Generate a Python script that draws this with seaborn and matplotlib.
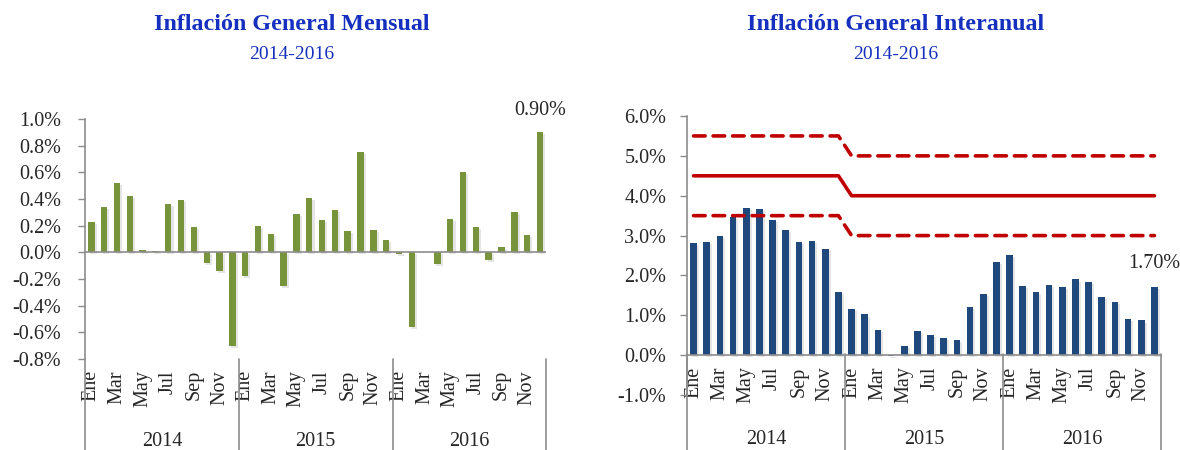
import numpy as np
import matplotlib
matplotlib.use("Agg")
import matplotlib.pyplot as plt
import matplotlib.patheffects as pe
from matplotlib.transforms import blended_transform_factory
import pandas as pd
import seaborn as sns

# data
years = ["2014", "2015", "2016"]
month_labels = ["Ene", "Mar", "May", "Jul", "Sep", "Nov"]

mensual = [0.23, 0.34, 0.52, 0.42, 0.02, 0.01, 0.36, 0.39, 0.19, -0.08, -0.14, -0.70,
           -0.18, 0.20, 0.14, -0.25, 0.29, 0.41, 0.24, 0.32, 0.16, 0.75, 0.17, 0.09,
           -0.01, -0.56, 0.00, -0.09, 0.25, 0.60, 0.19, -0.06, 0.04, 0.30, 0.13, 0.90]

interanual = [2.82, 2.83, 2.98, 3.46, 3.69, 3.67, 3.40, 3.13, 2.83, 2.87, 2.67, 1.58,
              1.15, 1.02, 0.64, -0.03, 0.23, 0.61, 0.50, 0.43, 0.39, 1.22, 1.54, 2.34,
              2.52, 1.74, 1.59, 1.76, 1.71, 1.90, 1.84, 1.46, 1.34, 0.91, 0.87, 1.70]

meta = [4.5] * 12 + [4.0] * 24
meta_sup = [5.5] * 12 + [5.0] * 24
meta_inf = [3.5] * 12 + [3.0] * 24

GREEN = "#77933C"
BLUE = "#1F497D"
RED = "#C00000"
GRAY = "#8C8C8C"
TITLE_BLUE = "#1530BE"

sns.set_style("white")
plt.rcParams["font.family"] = ["Liberation Serif", "DejaVu Serif"]

fig = plt.figure(figsize=(11.8, 4.5), dpi=100)
ax1 = fig.add_axes([0.072, 0.2022, 0.391, 0.5333])
ax2 = fig.add_axes([0.5822, 0.1222, 0.4017, 0.62])

idx = np.arange(36)
shadow = [pe.SimplePatchShadow(offset=(1.5, -1.5), shadow_rgbFace="#aaaaaa", alpha=0.3), pe.Normal()]


def setup_axis(ax, vals, color, ylim, step, y_sep_top, y_year, ypad, zero_spine):
    df = pd.DataFrame({"mes": idx, "valor": vals})
    sns.barplot(data=df, x="mes", y="valor", color=color, width=0.5,
                errorbar=None, ax=ax, saturation=1, linewidth=0)
    for p in ax.patches:
        p.set_path_effects(shadow)
    for s in ["top", "right"]:
        ax.spines[s].set_visible(False)
    if zero_spine:
        ax.spines["bottom"].set_position(("data", 0))
        ax.spines["bottom"].set_color(GRAY)
        ax.spines["bottom"].set_linewidth(1.2)
    else:
        ax.spines["bottom"].set_visible(False)
        ax.axhline(0, color=GRAY, lw=1.2, zorder=1)
    ax.spines["left"].set_color(GRAY)
    ax.spines["left"].set_linewidth(1.2)

    ax.set_xlim(-0.5, 35.5)
    ax.set_ylim(*ylim)
    ticks = np.arange(ylim[0], ylim[1] + step / 2, step)
    ax.set_yticks(ticks)
    ax.set_yticklabels([f"{t:.1f}%" if abs(t) > 1e-9 else "0.0%" for t in ticks], fontsize=14.5)
    ax.set_xticks(idx[::2])
    ax.set_xticklabels(month_labels * 3, rotation=90, fontsize=14.5)
    ax.tick_params(axis="x", length=0, pad=8)
    ax.tick_params(axis="y", length=5, width=1, color=GRAY, direction="out", left=True, pad=ypad)
    ax.set_xlabel("")
    ax.set_ylabel("")

    tr = blended_transform_factory(ax.transData, fig.transFigure)
    for x in [-0.5, 11.5, 23.5, 35.5]:
        ax.plot([x, x], [y_sep_top, 0.0], transform=tr, color=GRAY, lw=1.2, clip_on=False)
    for i, y in enumerate(years):
        ax.text(5.5 + 12 * i, y_year, y, transform=tr, ha="center", va="center", fontsize=14.5)


# left: mensual
setup_axis(ax1, mensual, GREEN, (-0.8, 1.0), 0.2, 0.2022, 0.018, 12, False)
ax1.annotate(f"{mensual[-1]:.2f}%", xy=(35, mensual[-1]), xytext=(0, 16),
             textcoords="offset points", ha="center", va="center", fontsize=14.5)

# right: interanual with target band
setup_axis(ax2, interanual, BLUE, (-1.0, 6.0), 1.0, 0.2133, 0.024, 10, True)
ax2.plot(idx, meta, color=RED, lw=2.6, solid_capstyle="round", zorder=3)
for band in (meta_sup, meta_inf):
    ln, = ax2.plot(idx, band, color=RED, lw=2.6, zorder=3)
    ln.set_dashes((3.2, 2.2))
    ln.set_dash_capstyle("round")
ax2.annotate(f"{interanual[-1]:.2f}%", xy=(35, interanual[-1]), xytext=(0, 17),
             textcoords="offset points", ha="center", va="center", fontsize=14.5)

# titles
fig.text(0.2475, 0.945, "Inflación General Mensual", ha="center", va="center",
         fontsize=17.3, fontweight="bold", color=TITLE_BLUE)
fig.text(0.2475, 0.878, "2014-2016", ha="center", va="center", fontsize=14, color=TITLE_BLUE)
fig.text(0.759, 0.945, "Inflación General Interanual", ha="center", va="center",
         fontsize=17.3, fontweight="bold", color=TITLE_BLUE)
fig.text(0.759, 0.878, "2014-2016", ha="center", va="center", fontsize=14, color=TITLE_BLUE)

fig.savefig("out.png", dpi=100)
